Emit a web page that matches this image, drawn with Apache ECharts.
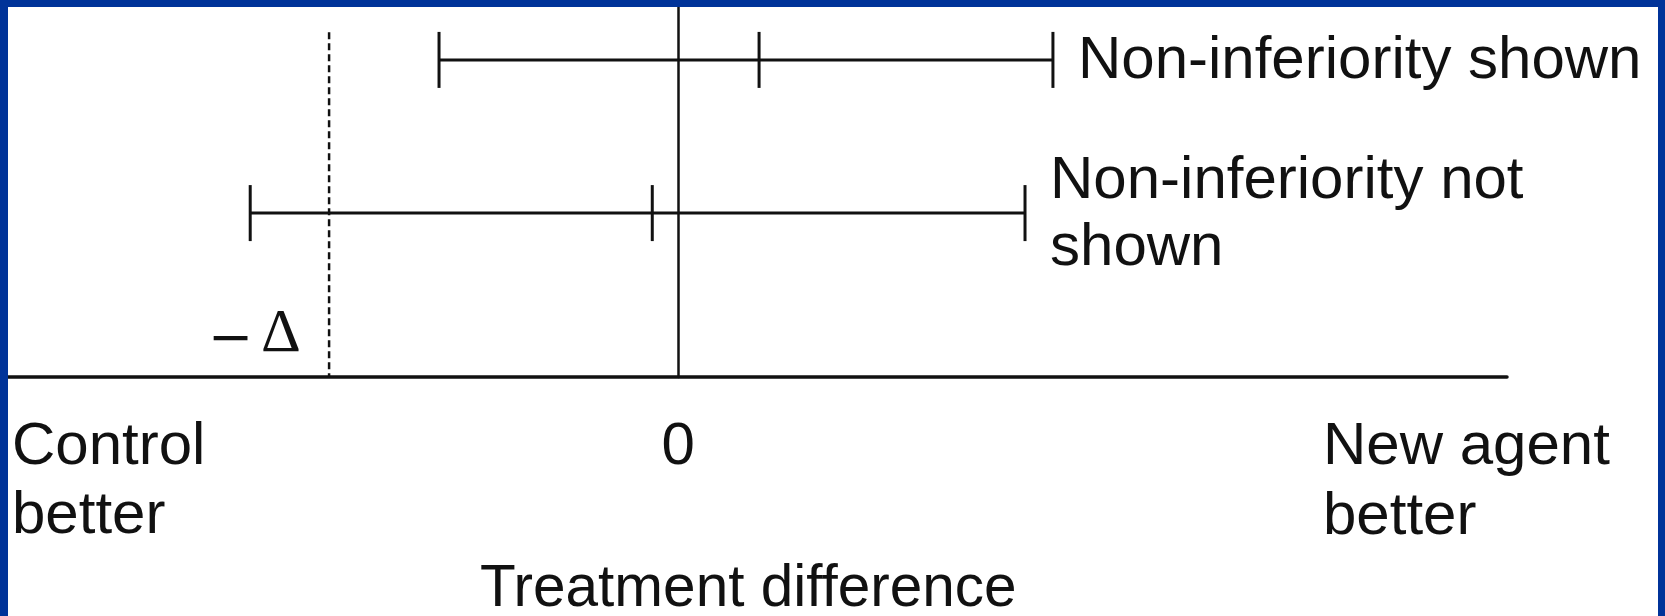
<!DOCTYPE html>
<html>
<head>
<meta charset="utf-8">
<script src="https://cdn.jsdelivr.net/npm/echarts@6/dist/echarts.min.js"></script>
<style>
  html, body { margin: 0; padding: 0; background: #ffffff; }
  #chart { width: 1665px; height: 616px; }
</style>
</head>
<body>
<div id="chart"></div>
<script>
// ---- data ----
const rowLabels = ['Non-inferiority shown', 'Non-inferiority not\nshown'];
const ciLower   = [-6.85, -12.26];
const pointEst  = [2.32, -0.74];
const ciUpper   = [10.74, 9.94];
const rowY      = [8.57, 4.43];
const marginValue = -10;        // -Δ
const marginTop   = 9.32;       // dashed line top (y units)
const xTickValues = [0];
const xTickLabels = ['0'];
const endLabels   = ['Control\nbetter', 'New agent\nbetter'];
const axisTitle   = 'Treatment difference';
const marginMinus = '\u2212';
const marginDelta = '\u0394';

// ---- chart ----
const FONT = '"Liberation Sans", Arial, Helvetica, sans-serif';
const INK = '#111111';
const BLUE = '#003399';

const ciData = rowLabels.map((lab, i) => [ciLower[i], pointEst[i], ciUpper[i], rowY[i], i]);

const chart = echarts.init(document.getElementById('chart'), null, { renderer: 'canvas' });

chart.setOption({
  backgroundColor: '#ffffff',
  animation: false,
  grid: { left: 8, right: 158, top: 7, bottom: 239, containLabel: false },
  xAxis: {
    type: 'value',
    min: -19.2,
    max: 23.75,
    axisLine: { show: true, onZero: true, lineStyle: { color: INK, width: 3.5 } },
    axisTick: { show: false },
    splitLine: { show: false },
    axisLabel: {
      show: true,
      customValues: xTickValues,
      formatter: (v) => { const k = xTickValues.indexOf(v); return k >= 0 ? xTickLabels[k] : ''; },
      color: INK,
      fontFamily: FONT,
      fontSize: 60,
      lineHeight: 60,
      margin: 40
    }
  },
  yAxis: {
    type: 'value',
    min: 0,
    max: 10,
    axisLine: { show: true, onZero: true, lineStyle: { color: INK, width: 2.5 } },
    axisTick: { show: false },
    axisLabel: { show: false },
    splitLine: { show: false }
  },
  series: [
    {
      type: 'line',
      data: [[marginValue, marginTop], [marginValue, 0]],
      symbol: 'none',
      lineStyle: { color: INK, width: 2.5, type: [7, 4] },
      z: 3
    },
    {
      type: 'custom',
      data: ciData,
      encode: { x: [0, 1, 2], y: 3 },
      z: 5,
      renderItem: function (params, api) {
        const y = api.value(3);
        const pLo = api.coord([api.value(0), y]);
        const pPt = api.coord([api.value(1), y]);
        const pHi = api.coord([api.value(2), y]);
        const h = 28;
        const ls = { stroke: INK, lineWidth: 3 };
        const idx = api.value(4);
        return {
          type: 'group',
          children: [
            { type: 'line', shape: { x1: pLo[0], y1: pLo[1], x2: pHi[0], y2: pHi[1] }, style: ls },
            { type: 'line', shape: { x1: pLo[0], y1: pLo[1] - h, x2: pLo[0], y2: pLo[1] + h }, style: ls },
            { type: 'line', shape: { x1: pPt[0], y1: pPt[1] - h, x2: pPt[0], y2: pPt[1] + h }, style: ls },
            { type: 'line', shape: { x1: pHi[0], y1: pHi[1] - h, x2: pHi[0], y2: pHi[1] + h }, style: ls },
            {
              type: 'text',
              x: pHi[0] + 25,
              y: pHi[1] + 2,
              style: {
                text: rowLabels[idx],
                fill: INK,
                fontFamily: FONT,
                fontSize: 60,
                lineHeight: 67,
                align: 'left',
                verticalAlign: 'middle'
              }
            }
          ]
        };
      }
    }
  ],
  graphic: [
    {
      type: 'text', left: 12, top: 413,
      style: { text: endLabels[0], fill: INK, fontFamily: FONT, fontSize: 60, lineHeight: 69, align: 'left' }
    },
    {
      type: 'text', left: 1323, top: 412,
      style: { text: endLabels[1], fill: INK, fontFamily: FONT, fontSize: 60, lineHeight: 70, align: 'left' }
    },
    {
      type: 'text', left: 480, top: 560,
      style: { text: axisTitle, fill: INK, fontFamily: FONT, fontSize: 58.5, lineHeight: 60 }
    },
    {
      type: 'text', left: 261, top: 304,
      style: { text: marginDelta, fill: INK, fontFamily: '"Liberation Serif", "Times New Roman", serif', fontSize: 62, lineHeight: 62 }
    },
    {
      type: 'text', right: 1665 - 253, top: 310,
      style: { text: marginMinus, fill: INK, fontFamily: '"DejaVu Serif", "Liberation Serif", serif', fontSize: 54, lineHeight: 62 }
    },
    // blue frame
    { type: 'rect', left: 0, top: 0, z: 100, shape: { width: 1665, height: 7 }, style: { fill: BLUE } },
    { type: 'rect', left: 0, top: 0, z: 100, shape: { width: 8, height: 616 }, style: { fill: BLUE } },
    { type: 'rect', right: 0, top: 0, z: 100, shape: { width: 7, height: 616 }, style: { fill: BLUE } }
  ]
});
</script>
</body>
</html>
